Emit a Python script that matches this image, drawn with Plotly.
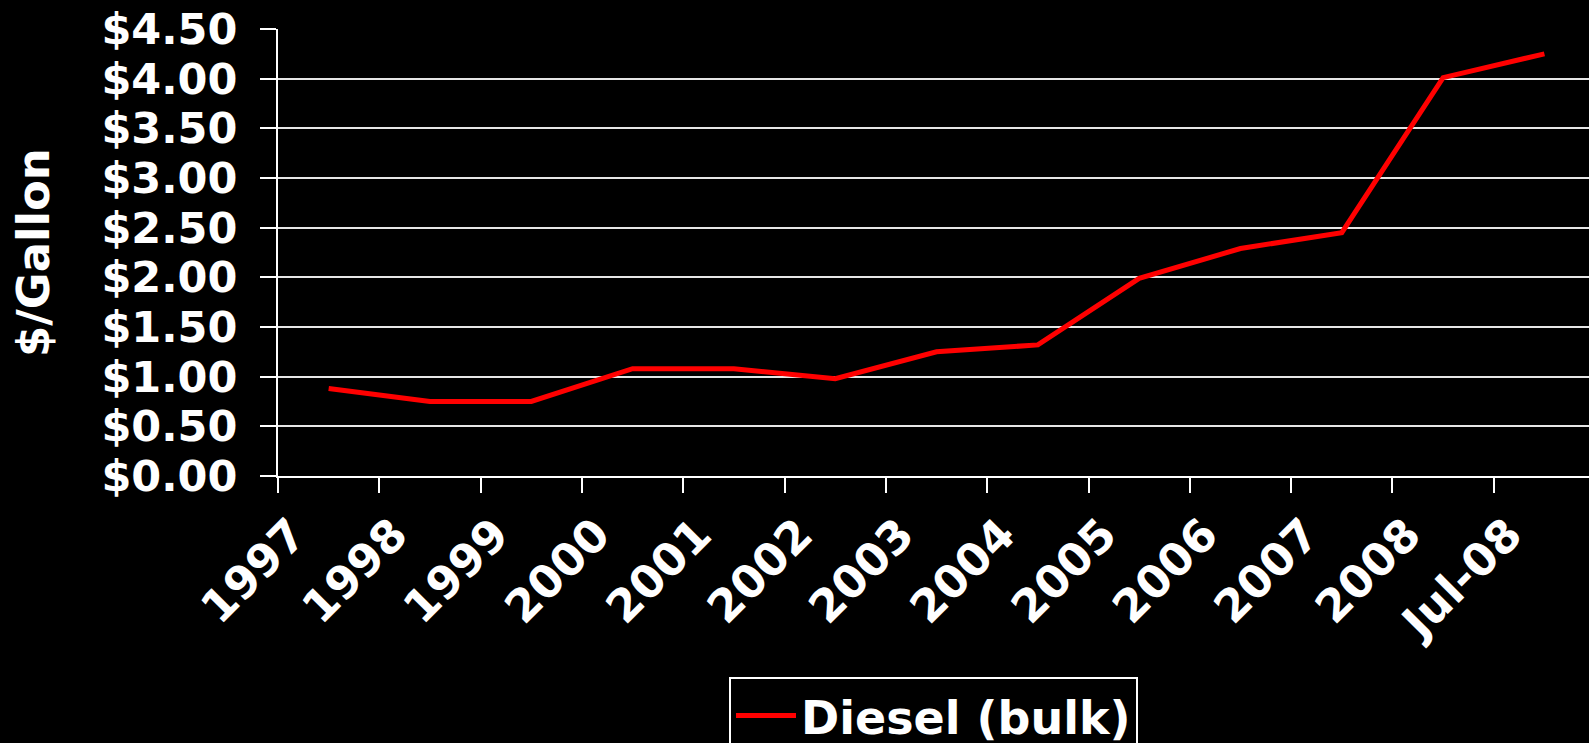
import plotly.graph_objects as go

categories = ["1997", "1998", "1999", "2000", "2001", "2002", "2003",
              "2004", "2005", "2006", "2007", "2008", "Jul-08"]
diesel_bulk = [0.88, 0.75, 0.75, 1.08, 1.08, 0.98, 1.25,
               1.32, 1.99, 2.29, 2.45, 4.01, 4.25]
y_ticks = [0, 0.5, 1, 1.5, 2, 2.5, 3, 3.5, 4, 4.5]
y_tick_labels = ["$%.2f" % v for v in y_ticks]

FONT = "DejaVu Sans"

fig = go.Figure()
fig.add_trace(go.Scatter(
    x=categories, y=diesel_bulk, mode="lines", name="Diesel (bulk)",
    line=dict(color="#ff0000", width=5),
))

fig.update_layout(
    width=1589, height=743,
    paper_bgcolor="black", plot_bgcolor="black",
    margin=dict(l=278, r=0, t=29, b=267, autoexpand=False),
    font=dict(family=FONT, color="white", size=40, weight="bold"),
    showlegend=True,
    legend=dict(
        x=0.5, xanchor="center", y=-0.45, yanchor="top",
        bgcolor="black", bordercolor="white", borderwidth=2,
        itemwidth=60,
        font=dict(family=FONT, size=46, color="white", weight="bold"),
    ),
    xaxis=dict(
        type="category", range=[-0.5, 12.44], automargin=False,
        tickangle=-45, tickson="boundaries",
        ticks="outside", ticklen=15, tickwidth=2, tickcolor="white",
        showline=True, linecolor="white", linewidth=2,
        showgrid=False, zeroline=False,
        ticklabelstandoff=12, ticklabelshift=-36,
        tickfont=dict(family=FONT, size=45, color="white", weight="bold"),
    ),
    yaxis=dict(
        range=[0, 4.5], tickvals=y_ticks, ticktext=y_tick_labels,
        automargin=False,
        ticks="outside", ticklen=16, tickwidth=2, tickcolor="white",
        showline=True, linecolor="white", linewidth=2,
        showgrid=True, gridcolor="#e6e6e6", gridwidth=2,
        zeroline=False, ticklabelstandoff=14,
        tickfont=dict(family=FONT, size=43, color="white", weight="bold"),
    ),
    annotations=[dict(
        text="$/Gallon", textangle=-90, showarrow=False,
        xref="paper", yref="paper", x=-0.1865, y=0.5,
        xanchor="center", yanchor="middle",
        font=dict(family=FONT, size=45, color="white", weight="bold"),
    )],
)

fig.write_html(
    "out.html",
    config={"displayModeBar": False},
    post_script="document.body.style.margin='0';document.body.style.overflow='hidden';",
)
